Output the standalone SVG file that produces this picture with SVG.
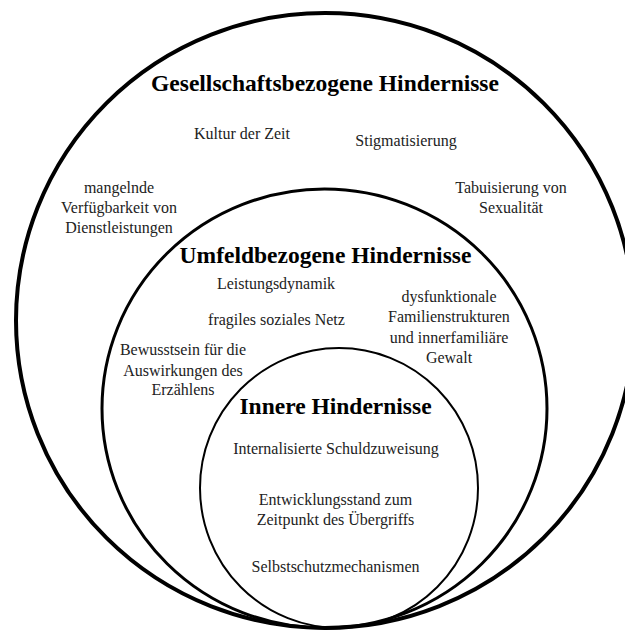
<svg xmlns="http://www.w3.org/2000/svg" width="625" height="632" viewBox="0 0 625 632">
<style>
.ring{fill:none;stroke:#000}
.h{font-family:"Liberation Serif","Times New Roman",serif;font-weight:bold;font-size:23.5px;fill:#000;text-anchor:middle}
.t{font-family:"Liberation Serif","Times New Roman",serif;font-size:16px;fill:#222;text-anchor:middle}
</style>
<rect width="625" height="632" fill="#fff"/>
<g id="gesellschaft">
<ellipse class="ring" cx="325" cy="320.5" rx="309" ry="307.5" stroke-width="4"/>
<text class="h" x="325" y="91">Gesellschaftsbezogene Hindernisse</text>
<text class="t" x="242" y="139">Kultur der Zeit</text>
<text class="t" x="406" y="146">Stigmatisierung</text>
<text class="t" x="119" y="193">mangelnde</text>
<text class="t" x="119" y="213">Verfügbarkeit von</text>
<text class="t" x="119" y="233">Dienstleistungen</text>
<text class="t" x="511" y="193">Tabuisierung von</text>
<text class="t" x="511" y="213">Sexualität</text>
</g>
<g id="umfeld">
<ellipse class="ring" cx="324.5" cy="408.5" rx="222.5" ry="219.5" stroke-width="3"/>
<text class="h" x="325.5" y="263">Umfeldbezogene Hindernisse</text>
<text class="t" x="276" y="289">Leistungsdynamik</text>
<text class="t" x="276.5" y="325">fragiles soziales Netz</text>
<text class="t" x="449" y="302">dysfunktionale</text>
<text class="t" x="449" y="322">Familienstrukturen</text>
<text class="t" x="449" y="343">und innerfamiliäre</text>
<text class="t" x="449" y="363">Gewalt</text>
<text class="t" x="183" y="355">Bewusstsein für die</text>
<text class="t" x="183" y="376">Auswirkungen des</text>
<text class="t" x="183" y="395">Erzählens</text>
</g>
<g id="innere">
<ellipse class="ring" cx="339" cy="488" rx="139" ry="140" stroke-width="2"/>
<text class="h" x="335.5" y="414">Innere Hindernisse</text>
<text class="t" x="336" y="454">Internalisierte Schuldzuweisung</text>
<text class="t" x="335.5" y="505">Entwicklungsstand zum</text>
<text class="t" x="335.5" y="525">Zeitpunkt des Übergriffs</text>
<text class="t" x="335.5" y="572">Selbstschutzmechanismen</text>
</g>
<g id="connectors"></g>
</svg>
